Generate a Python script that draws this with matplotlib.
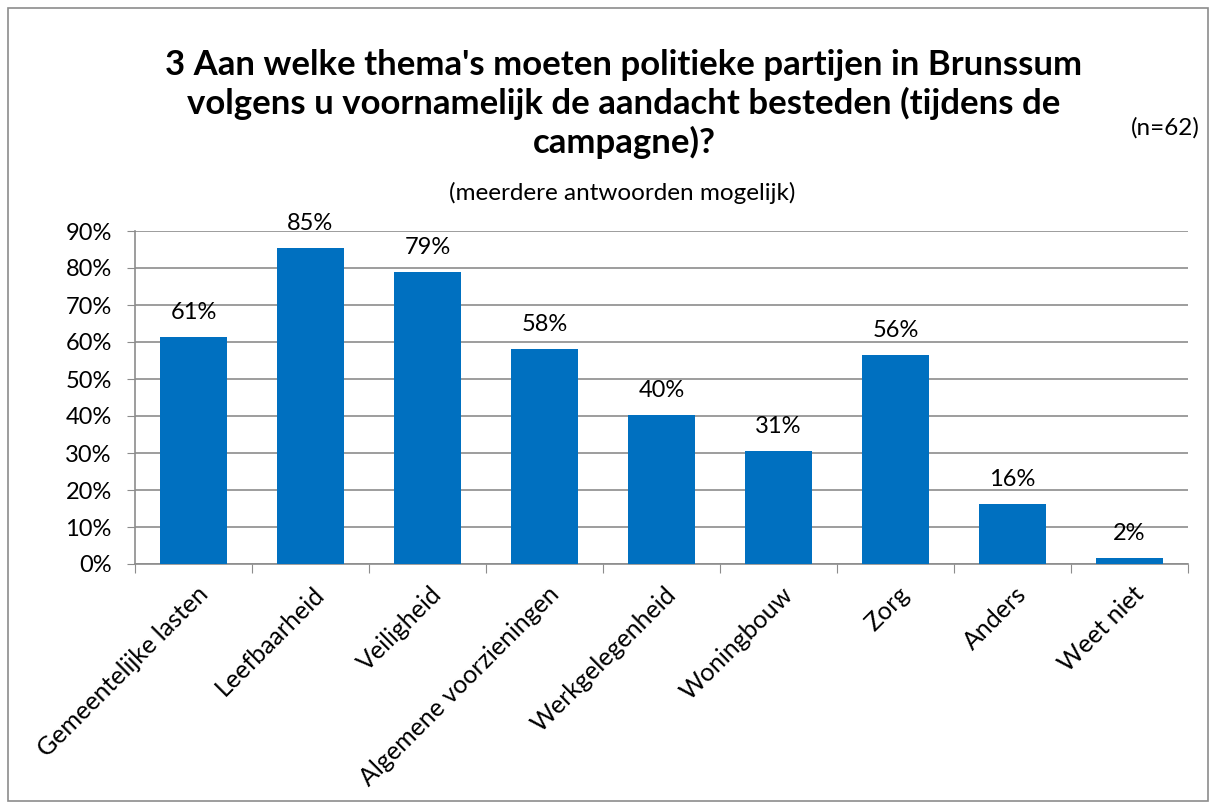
import matplotlib.pyplot as plt
from matplotlib.patches import Rectangle
import numpy as np

plt.rcParams['font.family'] = ['Lato', 'DejaVu Sans']

categories = ['Gemeentelijke lasten', 'Leefbaarheid', 'Veiligheid', 'Algemene voorzieningen',
              'Werkgelegenheid', 'Woningbouw', 'Zorg', 'Anders', 'Weet niet']
values = [61.29, 85.48, 79.03, 58.06, 40.32, 30.65, 56.45, 16.13, 1.61]
yticks = [0, 10, 20, 30, 40, 50, 60, 70, 80, 90]

title = "3 Aan welke thema's moeten politieke partijen in Brunssum\nvolgens u voornamelijk de aandacht besteden (tijdens de\ncampagne)?"
subtitle = "(meerdere antwoorden mogelijk)"
note = "(n=62)"

fig = plt.figure(figsize=(12.15, 8.05), dpi=100)
fig.patches.append(Rectangle((8 / 1215, 4 / 805), 1200 / 1215, 793 / 805, transform=fig.transFigure,
                             fill=False, edgecolor='#8c8c8c', linewidth=1.2))

ax = fig.add_axes([135 / 1215, 1 - 564 / 805, 1053 / 1215, 333 / 805])
x = np.arange(len(categories))
ax.bar(x, values, width=0.57, color='#0070c0', zorder=3)

for xi, v in zip(x, values):
    ax.text(xi, v + 3.8, f"{round(v)}%", ha='center', va='bottom', fontsize=17)

ax.set_xlim(-0.5, len(categories) - 0.5)
ax.set_ylim(0, 90)
ax.set_yticks(yticks)
ax.set_yticklabels([f"{t}%" for t in yticks], fontsize=17)
ax.yaxis.grid(True, color='#8c8c8c', linewidth=1.2, zorder=0)
ax.tick_params(axis='y', length=5.8, color='#8c8c8c', pad=11)

ax.set_xticks(np.arange(-0.5, len(categories), 1.0))
ax.set_xticklabels([])
ax.tick_params(axis='x', length=6.5, color='#8c8c8c')
for xi, c in zip(x, categories):
    ax.text(xi + 0.02, -5.0, c, rotation=45, ha='right', va='top', rotation_mode='anchor', fontsize=18)

for s in ['top', 'right']:
    ax.spines[s].set_visible(False)
for s in ['left', 'bottom']:
    ax.spines[s].set_color('#8c8c8c')
    ax.spines[s].set_linewidth(1.2)

fig.text(624 / 1215, 1 - 104 / 805, title, ha='center', va='center', fontsize=25,
         fontweight='bold', linespacing=1.22)
fig.text(622 / 1215, 1 - 193 / 805, subtitle, ha='center', va='center', fontsize=17.5)
fig.text(1165 / 1215, 1 - 128 / 805, note, ha='center', va='center', fontsize=17.5)

fig.savefig('out.png', dpi=100)
